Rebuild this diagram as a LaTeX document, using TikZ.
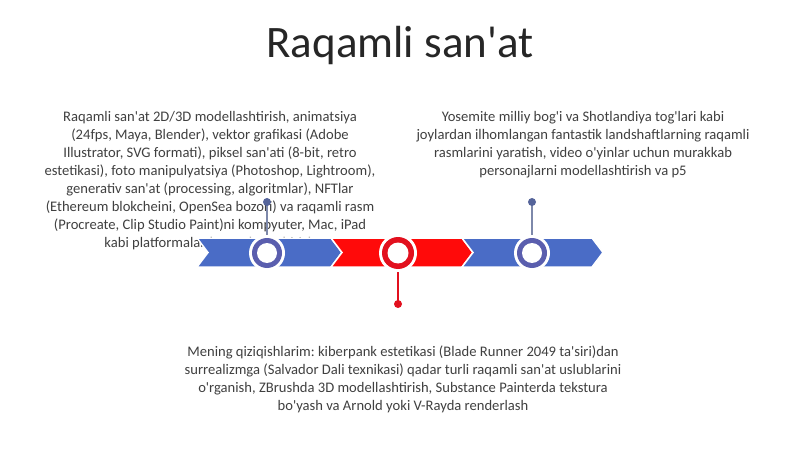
\documentclass[tikz,border=0pt]{standalone}
\usepackage{fontspec}
\setmainfont{Carlito}[Ligatures=TeXOff]
\frenchspacing
\begin{document}
\begin{tikzpicture}[x=1pt,y=-1pt,
  txt/.style={font=\fontsize{14.6}{18}\selectfont, text=black!75, align=center, inner sep=0pt, anchor=north},
  bluearrow/.style={fill=arrowblue, draw=white, line width=1.5pt},
  redarrow/.style={fill=arrowred, draw=white, line width=1.5pt},
  stemblue/.style={draw=stemblue, line width=1.4pt},
  stemred/.style={draw=ringred, line width=1.4pt}]
\definecolor{arrowblue}{HTML}{4A6CC6}
\definecolor{arrowred}{HTML}{FF0A0A}
\definecolor{ringblue}{HTML}{5A5EAE}
\definecolor{ringred}{HTML}{E2101E}
\definecolor{stemblue}{HTML}{7D88AA}
\definecolor{dotblue}{HTML}{55649A}
\useasboundingbox (0,0) rectangle (800,449);
\fill[white] (0,0) rectangle (800,449);

% title
\node[font=\fontsize{45}{50}\selectfont, text=black!85, inner sep=0pt] (title) at (400,46) {Raqamli san'at};

% texts
\node[txt] (left) at (210,111) {Raqamli san'at 2D/3D modellashtirish, animatsiya\\
(24fps, Maya, Blender), vektor grafikasi (Adobe\\
Illustrator, SVG formati), piksel san'ati (8-bit, retro\\
estetikasi), foto manipulyatsiya (Photoshop, Lightroom),\\
generativ san'at (processing, algoritmlar), NFTlar\\
(Ethereum blokcheini, OpenSea bozori) va raqamli rasm\\
(Procreate, Clip Studio Paint)ni kompyuter, Mac, iPad\\
kabi platformalarda amalga oshirish};

\node[txt] (right) at (583,111) {Yosemite milliy bog'i va Shotlandiya tog'lari kabi\\
joylardan ilhomlangan fantastik landshaftlarning raqamli\\
rasmlarini yaratish, video o'yinlar uchun murakkab\\
personajlarni modellashtirish va p5};

\node[txt] (bottom) at (403,346) {Mening qiziqishlarim: kiberpank estetikasi (Blade Runner 2049 ta'siri)dan\\
surrealizmga (Salvador Dali texnikasi) qadar turli raqamli san'at uslublarini\\
o'rganish, ZBrushda 3D modellashtirish, Substance Painterda tekstura\\
bo'yash va Arnold yoki V-Rayda renderlash};

% chevrons
\path[bluearrow] (197,238) -- (331,238) -- (342,252.5) -- (331,267) -- (197,267) -- (208,252.5) -- cycle;
\path[redarrow] (331,238) -- (462,238) -- (473,252.5) -- (462,267) -- (331,267) -- (342,252.5) -- cycle;
\path[bluearrow] (462,238) -- (592,238) -- (603,252.5) -- (592,267) -- (462,267) -- (473,252.5) -- cycle;

% markers
\coordinate (c1) at (267,253);
\coordinate (c2) at (398,253);
\coordinate (c3) at (532,253);
\coordinate (d1) at (267,202);
\coordinate (d2) at (398,304);
\coordinate (d3) at (532,202);

\draw[stemblue] (d1) -- (c1);
\draw[stemred] (d2) -- (c2);
\draw[stemblue] (d3) -- (c3);
\fill[dotblue] (d1) circle (4);
\fill[ringred] (d2) circle (4);
\fill[dotblue] (d3) circle (4);

\fill[white] (c1) circle (18);
\fill[ringblue] (c1) circle (15);
\fill[white] (c1) circle (10);
\fill[white] (c2) circle (19);
\fill[ringred] (c2) circle (16);
\fill[white] (c2) circle (10.5);
\fill[white] (c3) circle (18);
\fill[ringblue] (c3) circle (15);
\fill[white] (c3) circle (10);
\end{tikzpicture}
\end{document}
